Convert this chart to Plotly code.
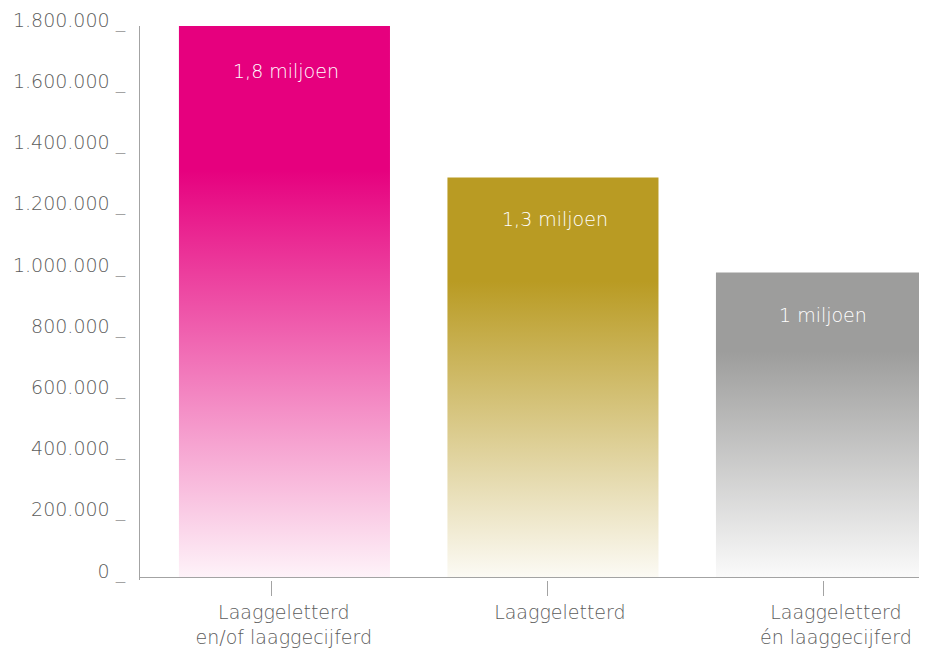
import plotly.graph_objects as go

# ---- data ----
categories = ["Laaggeletterd<br>en/of laaggecijferd", "Laaggeletterd", "Laaggeletterd<br>én laaggecijferd"]
values = [1800000, 1305000, 995000]
bar_labels = ["1,8 miljoen", "1,3 miljoen", "1 miljoen"]
y_ticks = [0, 200000, 400000, 600000, 800000, 1000000, 1200000, 1400000, 1600000, 1800000]
y_tick_labels = [f"{v:,}".replace(",", ".") + " _" for v in y_ticks]

# ---- style ----
bar_rgb = [(230, 0, 126), (185, 155, 35), (157, 157, 156)]
bar_width = 0.786
tick_positions = [-0.047, 0.981, 2.009]
label_offsets = [-45, -41, -43]
axis_color = "#a3a3a3"
text_color = "#5c5c5c"
font_family = "DejaVu Sans"
font_weight = 300
font_size = 19

fig = go.Figure()
for i, (v, rgb) in enumerate(zip(values, bar_rgb)):
    r, g, b = rgb
    left, right = i - bar_width / 2, i + bar_width / 2
    fig.add_trace(go.Scatter(
        x=[left, right, right, left, left],
        y=[0, 0, v, v, 0],
        mode="lines",
        line=dict(width=0),
        fill="toself",
        fillgradient=dict(
            type="vertical",
            start=0,
            stop=v,
            colorscale=[
                [0, f"rgba({r},{g},{b},0.05)"],
                [0.74, f"rgba({r},{g},{b},1)"],
                [1, f"rgba({r},{g},{b},1)"],
            ],
        ),
        hoverinfo="skip",
        showlegend=False,
    ))
    fig.add_annotation(
        x=i, y=v, text=bar_labels[i], showarrow=False,
        yshift=label_offsets[i], xshift=2, yanchor="middle",
        font=dict(family=font_family, size=font_size, color="white", weight=font_weight),
    )

fig.update_layout(
    width=919, height=644,
    margin=dict(l=132, r=0, t=18, b=72),
    paper_bgcolor="white", plot_bgcolor="white",
    font=dict(family=font_family, size=font_size, color=text_color, weight=font_weight),
    xaxis=dict(
        range=[-0.538, 2.393], automargin=False,
        showline=False, zeroline=False, showgrid=False,
        ticks="outside", ticklen=15, tickwidth=1, tickcolor=axis_color,
        tickvals=tick_positions, ticktext=categories,
        ticklabelshift=12,
        tickfont=dict(family=font_family, size=font_size, color=text_color, weight=font_weight),
    ),
    yaxis=dict(
        range=[-9800, 1800000], automargin=False,
        showline=True, linecolor=axis_color, linewidth=1,
        zeroline=True, zerolinecolor=axis_color, zerolinewidth=1,
        showgrid=False,
        ticks="", tickvals=y_ticks, ticktext=y_tick_labels,
        ticklabelstandoff=10, ticklabelshift=-6,
        tickfont=dict(family=font_family, size=font_size, color=text_color, weight=font_weight),
    ),
)

fig.write_html("out.html")
